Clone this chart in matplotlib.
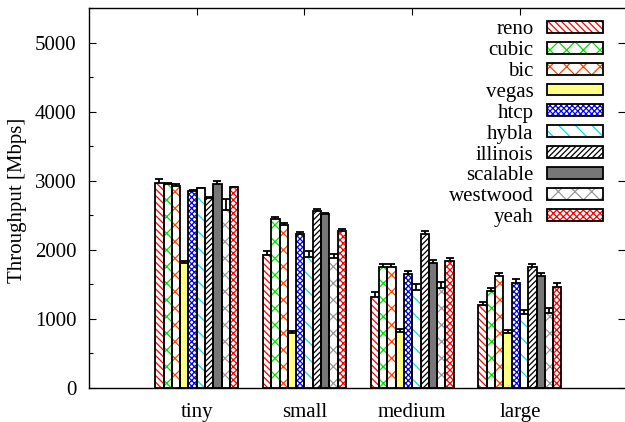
import numpy as np
import matplotlib
matplotlib.use('Agg')
import matplotlib.pyplot as plt
from matplotlib.patches import Patch
from matplotlib.ticker import MultipleLocator

plt.rcParams['font.family'] = ['Liberation Serif', 'DejaVu Serif']
plt.rcParams['font.size'] = 15
plt.rcParams['hatch.linewidth'] = 0.9

## DATA
groups = ['tiny', 'small', 'medium', 'large']
algos = ['reno', 'cubic', 'bic', 'vegas', 'htcp', 'hybla', 'illinois', 'scalable', 'westwood', 'yeah']

# throughput [Mbps] per algo, for tiny / small / medium / large
means = {
    'reno':     [2970, 1925, 1315, 1200],
    'cubic':    [2948, 2445, 1755, 1405],
    'bic':      [2923, 2358, 1755, 1620],
    'vegas':    [1812, 797, 807, 793],
    'htcp':     [2855, 2232, 1648, 1522],
    'hybla':    [2890, 1890, 1420, 1070],
    'illinois': [2754, 2565, 2227, 1754],
    'scalable': [2948, 2517, 1817, 1619],
    'westwood': [2580, 1884, 1450, 1090],
    'yeah':     [2904, 2271, 1836, 1464],
}
errs = {
    'reno':     [55, 55, 70, 40],
    'cubic':    [25, 35, 40, 45],
    'bic':      [30, 30, 45, 45],
    'vegas':    [25, 30, 45, 45],
    'htcp':     [12, 30, 45, 50],
    'hybla':    [12, 90, 80, 65],
    'illinois': [12, 20, 50, 40],
    'scalable': [50, 15, 40, 45],
    'westwood': [160, 50, 80, 65],
    'yeah':     [12, 30, 50, 60],
}

## STYLE: (fill colour, hatch colour, hatch)
styles = {
    'reno':     ('white', '#ff0000', '\\' * 5),
    'cubic':    ('white', '#00e000', 'xx'),
    'bic':      ('white', '#ff4500', 'xx'),
    'vegas':    ('#ffff80', 'black', ''),
    'htcp':     ('white', '#0000ff', 'xxxxxx'),
    'hybla':    ('white', '#00e0e0', '\\\\'),
    'illinois': ('white', 'black', '//////'),
    'scalable': ('#777777', 'black', ''),
    'westwood': ('white', '#999999', 'xx'),
    'yeah':     ('white', '#ff0000', 'xxxxx'),
}

fig = plt.figure(figsize=(6.25, 4.22), dpi=100)
ax = fig.add_axes([0.1424, 0.0806, 0.8576, 0.9])

centers = np.arange(1, len(groups) + 1)
w = 0.077
lw = 1.3

handles = []
for i, algo in enumerate(algos):
    x = centers + (i - (len(algos) - 1) / 2) * w
    fc, hc, h = styles[algo]
    ax.errorbar(x, means[algo], yerr=errs[algo], fmt='none', ecolor='black',
                elinewidth=lw, capsize=3, capthick=lw, zorder=2)
    ax.bar(x, means[algo], w, facecolor=fc, edgecolor=hc, hatch=h, linewidth=0, zorder=3)
    ax.bar(x, means[algo], w, fill=False, edgecolor='black', linewidth=lw, zorder=4)
    handles.append((Patch(facecolor=fc, edgecolor=hc, hatch=h, linewidth=0),
                    Patch(fill=False, edgecolor='black', linewidth=lw)))

ax.set_xlim(0, 4.975)
ax.set_ylim(0, 5500)
ax.set_xticks(centers)
ax.set_xticklabels(groups)
ax.yaxis.set_major_locator(MultipleLocator(1000))
ax.yaxis.set_minor_locator(MultipleLocator(500))
ax.set_yticks([0, 1000, 2000, 3000, 4000, 5000])
ax.tick_params(axis='both', which='major', direction='in', length=5, width=0.8,
               top=True, right=True, pad=9)
ax.tick_params(axis='y', which='minor', direction='in', length=3, width=0.8, right=False)
ax.tick_params(axis='x', which='major', pad=11)
ax.spines['right'].set_visible(False)
for s in ['left', 'top', 'bottom']:
    ax.spines[s].set_linewidth(1.0)

ax.set_ylabel('Throughput [Mbps]')
ax.yaxis.set_label_coords(-0.115, 0.495)

leg = ax.legend(handles, algos, loc='upper right', bbox_to_anchor=(0.975, 0.99),
                frameon=False, markerfirst=False, handlelength=2.7, handleheight=0.5,
                handletextpad=0.65, labelspacing=0.09, borderaxespad=0)
for t in leg.get_texts():
    t.set_ha('right')

fig.savefig('out.png', dpi=100)
